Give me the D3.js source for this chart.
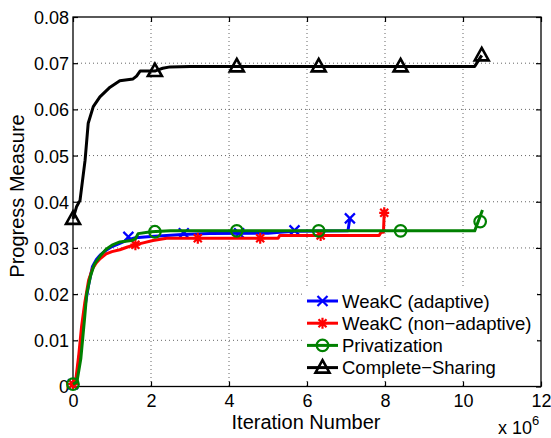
<!DOCTYPE html>
<html>
<head>
<meta charset="utf-8">
<script src="https://cdn.jsdelivr.net/npm/d3@7"></script>
<style>
  body { margin: 0; background: #fff; }
  text { font-family: "Liberation Sans", Arial, sans-serif; fill: #000; }
</style>
</head>
<body>
<div id="node"></div>
<script>
// iteration number in millions, progress measure
const adaptiveX = [0, 0.1, 0.18, 0.3, 0.4, 0.5, 0.6, 0.7, 0.85, 1.0, 1.2, 1.42, 1.6, 2.0, 2.4, 2.8, 3.5, 5.0, 5.3, 5.7, 7.05, 7.1];
const adaptiveY = [0.0005, 0.002, 0.008, 0.017, 0.022, 0.026, 0.0275, 0.0285, 0.0295, 0.0303, 0.031, 0.0318, 0.0322, 0.0325, 0.0327, 0.0329, 0.0331, 0.0332, 0.0334, 0.0336, 0.0337, 0.0364];
const adaptiveMarkX = [0, 1.42, 2.84, 4.26, 5.68, 7.1];
const adaptiveMarkY = [0.0005, 0.0324, 0.0332, 0.0332, 0.0338, 0.0364];

const nonAdaptiveX = [0, 0.08, 0.15, 0.22, 0.3, 0.4, 0.5, 0.6, 0.7, 0.85, 1.0, 1.2, 1.4, 1.6, 1.8, 2.05, 2.4, 5.26, 5.3, 7.85, 7.9, 7.96, 7.98];
const nonAdaptiveY = [0.0005, 0.002, 0.007, 0.013, 0.018, 0.023, 0.0255, 0.0268, 0.0277, 0.0287, 0.0292, 0.0296, 0.0302, 0.0307, 0.0311, 0.0316, 0.0321, 0.0321, 0.0327, 0.0327, 0.0334, 0.0334, 0.0376];
const nonAdaptiveMarkX = [0, 1.6, 3.2, 4.8, 6.35, 7.98];
const nonAdaptiveMarkY = [0.0005, 0.0307, 0.0321, 0.0321, 0.0327, 0.0376];

const privX = [0, 0.1, 0.2, 0.3, 0.35, 0.45, 0.55, 0.7, 0.85, 1.0, 1.2, 1.5, 1.6, 1.67, 2.0, 2.5, 10.3, 10.5];
const privY = [0.0005, 0.001, 0.006, 0.015, 0.02, 0.024, 0.0265, 0.0283, 0.0297, 0.0306, 0.0313, 0.0316, 0.032, 0.0331, 0.0335, 0.0337, 0.0337, 0.0382];
const privMarkX = [0, 2.1, 4.2, 6.3, 8.4, 10.44];
const privMarkY = [0.0005, 0.0335, 0.0337, 0.0337, 0.0337, 0.0357];

const sharingX = [0, 0.09, 0.18, 0.31, 0.39, 0.52, 0.69, 0.95, 1.2, 1.54, 1.63, 1.72, 2.1, 2.2, 2.3, 2.49, 3.0, 10.3, 10.48];
const sharingY = [0.0363, 0.0389, 0.0403, 0.049, 0.057, 0.0606, 0.0627, 0.0648, 0.0662, 0.0666, 0.0672, 0.0683, 0.0683, 0.0686, 0.0689, 0.0692, 0.0693, 0.0693, 0.0717];
const sharingMarkX = [0, 2.1, 4.2, 6.3, 8.4, 10.48];
const sharingMarkY = [0.0363, 0.0683, 0.0693, 0.0693, 0.0693, 0.0717];

const xTicks = [0, 2, 4, 6, 8, 10, 12];
const yTicks = [0, 0.01, 0.02, 0.03, 0.04, 0.05, 0.06, 0.07, 0.08];

const seriesNames = ["WeakC (adaptive)", "WeakC (non\u2212adaptive)", "Privatization", "Complete\u2212Sharing"];
const seriesColors = ["#0000ff", "#ff0000", "#008000", "#000000"];
const seriesMarkers = ["x", "star", "circle", "triangle"];

const series = [
    {xs: adaptiveX, ys: adaptiveY, mx: adaptiveMarkX, my: adaptiveMarkY},
    {xs: nonAdaptiveX, ys: nonAdaptiveY, mx: nonAdaptiveMarkX, my: nonAdaptiveMarkY},
    {xs: privX, ys: privY, mx: privMarkX, my: privMarkY},
    {xs: sharingX, ys: sharingY, mx: sharingMarkX, my: sharingMarkY}
].map((s, i) => ({
    name: seriesNames[i], color: seriesColors[i], marker: seriesMarkers[i],
    line: s.xs.map((x, j) => [x, s.ys[j]]),
    marks: s.mx.map((x, j) => [x, s.my[j]])
}));

const W = 551, H = 438;
const margin = {top: 17, right: 10, bottom: 51.5, left: 73};
const width = W - margin.left - margin.right;   // 468
const height = H - margin.top - margin.bottom;  // 369.5

const svg = d3.select("#node").append("svg")
    .attr("width", W).attr("height", H);
const g = svg.append("g")
    .attr("transform", "translate(" + margin.left + "," + margin.top + ")");

const x = d3.scaleLinear().domain([0, 12]).range([0, width]);
const y = d3.scaleLinear().domain([0, 0.08]).range([height, 0]);

// dotted grid
g.append("g").selectAll("line").data(xTicks.slice(1, -1)).enter().append("line")
    .attr("x1", d => x(d)).attr("x2", d => x(d))
    .attr("y1", 0).attr("y2", height)
    .attr("stroke", "#666").attr("stroke-width", 1).attr("stroke-dasharray", "1,3");
g.append("g").selectAll("line").data(yTicks.slice(1, -1)).enter().append("line")
    .attr("y1", d => y(d)).attr("y2", d => y(d))
    .attr("x1", 0).attr("x2", width)
    .attr("stroke", "#666").attr("stroke-width", 1).attr("stroke-dasharray", "1,3");

// axes, ticks inward
const fmtY = d => d === 0 ? "0" : d3.format(".2f")(d);
const xAxis = g.append("g").attr("transform", "translate(0," + height + ")")
    .call(d3.axisBottom(x).tickValues(xTicks).tickSize(-5).tickPadding(8).tickFormat(d3.format("d")));
const yAxis = g.append("g")
    .call(d3.axisLeft(y).tickValues(yTicks).tickSize(-5).tickPadding(4).tickFormat(fmtY));
g.append("g").call(d3.axisTop(x).tickValues(xTicks).tickSize(-5).tickFormat(""));
g.append("g").attr("transform", "translate(" + width + ",0)")
    .call(d3.axisRight(y).tickValues(yTicks).tickSize(-5).tickFormat(""));
g.selectAll(".domain").remove();
g.selectAll(".tick line").attr("stroke", "#000").attr("stroke-width", 1.2);
xAxis.selectAll("text").style("font-size", "18px").attr("font-family", null);
yAxis.selectAll("text").style("font-size", "18px").attr("font-family", null).attr("dy", "0.36em");

g.append("rect").attr("width", width).attr("height", height)
    .attr("fill", "none").attr("stroke", "#000").attr("stroke-width", 1.3);

// lines and markers, one series after the other
const line = d3.line().x(d => x(d[0])).y(d => y(d[1]));

function markerPath(type) {
    const p = d3.path();
    if (type === "x") {
        p.moveTo(-5, -5); p.lineTo(5, 5); p.moveTo(-5, 5); p.lineTo(5, -5);
    } else if (type === "star") {
        p.moveTo(-5, 0); p.lineTo(5, 0); p.moveTo(0, -5.5); p.lineTo(0, 5.5);
        p.moveTo(-4, -4); p.lineTo(4, 4); p.moveTo(-4, 4); p.lineTo(4, -4);
    } else if (type === "circle") {
        p.arc(0, 0, 5.8, 0, 2 * Math.PI);
    } else {
        p.moveTo(0, -7.5); p.lineTo(7, 5); p.lineTo(-7, 5); p.closePath();
    }
    return p.toString();
}

series.forEach(s => {
    const sg = g.append("g");
    sg.append("path")
        .attr("d", line(s.line))
        .attr("fill", "none").attr("stroke", s.color)
        .attr("stroke-width", 3).attr("stroke-linejoin", "round");
    sg.selectAll(".mark").data(s.marks).enter().append("path")
        .attr("class", "mark")
        .attr("transform", d => "translate(" + x(d[0]) + "," + y(d[1]) + ")")
        .attr("d", markerPath(s.marker))
        .attr("fill", "none").attr("stroke", s.color)
        .attr("stroke-width", s.marker === "triangle" ? 2.6 : 2.2);
});

// legend
const legend = svg.append("g");
legend.append("rect").attr("x", 305).attr("y", 289).attr("width", 232).attr("height", 91)
    .attr("fill", "#fff");
const rows = legend.selectAll("g.row").data(series).enter().append("g")
    .attr("transform", (d, i) => "translate(307," + (301 + i * 22.2) + ")");
rows.append("line").attr("x1", 0).attr("x2", 31)
    .attr("stroke", d => d.color).attr("stroke-width", 3);
rows.append("path").attr("transform", "translate(15.5,0)")
    .attr("d", d => markerPath(d.marker))
    .attr("fill", "none").attr("stroke", d => d.color)
    .attr("stroke-width", d => d.marker === "triangle" ? 2.6 : 2.2);
rows.append("text").attr("x", 35).attr("dy", "0.36em")
    .style("font-size", "18.5px").text(d => d.name);

// axis labels
svg.append("text").attr("x", 306).attr("y", 429).attr("text-anchor", "middle")
    .style("font-size", "20px").text("Iteration Number");
svg.append("text").attr("transform", "translate(24,196) rotate(-90)")
    .attr("text-anchor", "middle").style("font-size", "20px").text("Progress Measure");
const mult = svg.append("text").attr("x", 498).attr("y", 434).style("font-size", "18px");
mult.append("tspan").text("x 10");
mult.append("tspan").attr("dy", -9).style("font-size", "13px").text("6");
</script>
</body>
</html>
